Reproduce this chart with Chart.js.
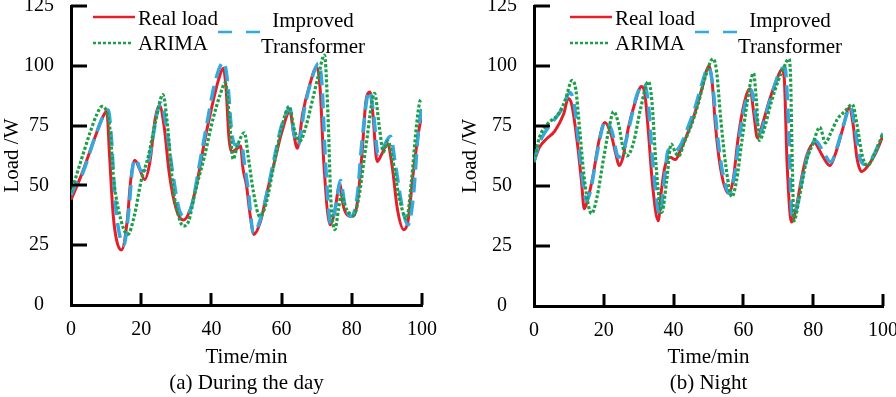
<!DOCTYPE html>
<html>
<head>
<meta charset="utf-8">
<script src="https://cdn.jsdelivr.net/npm/chart.js@4.4.0/dist/chart.umd.min.js"></script>
<style>
  html, body { margin: 0; padding: 0; background: #fff; overflow: hidden; width: 896px; height: 397px; }
  canvas { position: absolute; display: block; }
  #day { left: 0; top: -10px; }
  #night { left: 448px; top: -10px; }
</style>
</head>
<body>
<canvas id="day" width="448" height="407"></canvas>
<canvas id="night" width="460" height="407"></canvas>
<script>
// ---- data ----
const xTicks = [0, 20, 40, 60, 80, 100];
const yTicks = [0, 25, 50, 75, 100, 125];
const seriesNames = ['Real load', 'ARIMA', 'Improved Transformer'];

// (a) during the day
const dayRealTime = [0, 3, 6.8, 9.2, 10.2, 11, 12, 13, 14.4, 16, 17, 18.2, 19.5, 21, 22.5, 24, 25.2, 26.5, 28, 30, 32, 34, 36, 38, 40, 42, 43.4, 44.2, 45, 45.8, 47, 48.3, 49, 50, 51, 52.1, 54, 56, 58, 60, 62.4, 63.4, 64.5, 66, 68, 70, 71, 72, 73.8, 75, 76.6, 77.5, 78.5, 80, 81.5, 83, 84, 85.2, 86, 87.2, 88.5, 90.2, 91.5, 93, 94.8, 96, 97.5, 99, 100];
const dayRealLoad = [44, 54.5, 70, 79, 81, 62, 38, 27, 23, 35, 52, 60.5, 57, 52.5, 60, 78, 83.5, 75, 55, 40, 35.5, 40, 52, 68, 82, 94, 99, 90, 70, 64, 65, 66.5, 57, 50, 38, 29.5, 35, 48, 60, 72, 81, 72, 65.5, 80, 92, 99.5, 90, 60, 33.5, 38, 50.5, 42, 38, 37, 42, 65, 85, 89, 80, 60, 63, 67.5, 58, 40, 31.5, 35, 55, 72, 80];

const dayArimaTime = [0, 3, 5.4, 7.3, 8.8, 10.3, 11.2, 12, 13.5, 16.2, 18, 20, 22, 24, 26.2, 27.5, 29, 30.5, 32, 33.5, 35.5, 38, 40.5, 42.5, 44, 45, 46.2, 47.5, 49.4, 50.5, 52, 53.8, 55.5, 58, 60, 62.2, 63.5, 65.2, 67, 69, 70.5, 72.2, 73.2, 74, 75.2, 76.2, 77, 78.5, 80.5, 82, 84, 86.5, 87.8, 89, 90.3, 91.5, 93.5, 95.6, 97, 98.5, 99.5, 100];
const dayArimaLoad = [47, 61, 72, 79.5, 83, 80, 72, 55, 40, 29.5, 37, 52, 62, 76, 88, 75, 50, 38, 33, 35, 48, 62, 78, 88, 93, 80, 61, 67, 72, 62, 47, 37, 42, 60, 74, 83, 74, 68.5, 75, 87, 96, 104.5, 80, 45, 31.5, 40, 46, 40, 37.5, 45, 66, 88.5, 75, 64, 68.5, 62, 45, 36, 52, 76, 85.5, 86];

const dayTransTime = [0, 1.2, 3, 6.8, 9.2, 10.6, 11.5, 12.5, 13.5, 15, 16.5, 17.5, 18.5, 20, 21.5, 23, 24.5, 25.8, 27, 29, 31, 32.5, 34.5, 36.5, 39, 41, 43.5, 44.7, 45.8, 46.8, 48.5, 49.5, 50.5, 52, 54, 56, 58, 60, 62.4, 63.5, 64.8, 66.5, 68.5, 70.5, 71.5, 72.5, 74, 75.5, 76.8, 78, 79.8, 81.5, 83, 85, 86.2, 87.5, 89, 91, 92.5, 94.5, 96, 97.5, 99, 100];
const dayTransLoad = [46, 50, 54, 70, 79, 81.5, 70, 45, 32, 25, 40, 57, 61, 56, 57, 67, 80, 84.5, 76, 55, 39, 37, 42, 58, 78, 93, 101.5, 92, 72, 67, 67.5, 58, 48, 30, 36, 48, 62, 75, 82, 72, 67, 82, 94, 101, 92, 60, 34, 42, 52, 42, 37, 45, 70, 89.5, 80, 63, 66, 70.5, 58, 40, 33.5, 45, 73, 83];

// (b) night
const nightRealTime = [0, 1.5, 3.5, 6, 8.5, 9.8, 10.8, 12.5, 13.6, 14.4, 15.5, 17, 18.5, 20.3, 22, 23.5, 24.4, 25.5, 27, 29, 30.8, 31.8, 32.8, 34, 35.6, 36.5, 37.5, 39, 40.5, 42, 44, 46, 48, 50.2, 51, 52, 53.5, 55.7, 57, 58.5, 60, 61.9, 63, 64, 65.5, 67.5, 69.5, 71, 71.7, 72.5, 73.8, 75, 76.5, 78, 80.3, 82.5, 84.8, 86.5, 88.5, 90.3, 91.5, 92.5, 93.9, 96, 98, 100];
const nightRealLoad = [60, 66, 69.5, 73, 80, 86.5, 84, 67, 52, 40.5, 45, 55, 68, 76.5, 72, 63, 58.5, 62, 74, 85, 91.5, 88, 72, 50, 35.5, 48, 58, 62, 61, 65, 72, 80, 90, 100, 94, 75, 57, 47, 52, 70, 83, 90.5, 80, 70, 76, 86, 94, 98.5, 95, 60, 35, 40, 52, 62, 68, 63, 58.5, 64, 74, 82.5, 75, 62, 56, 59, 64, 71];

const nightArimaTime = [0, 1.5, 4, 7, 9, 10.9, 12, 13, 14.5, 16.5, 18, 20, 21.5, 22.8, 24.2, 25.5, 26.6, 28.5, 30.5, 32.8, 33.8, 35, 36.6, 38, 39.3, 40.5, 41.5, 43, 45, 47, 49, 51.3, 52.3, 53.5, 55, 56.7, 58, 59.5, 61, 62.9, 63.7, 64.6, 66, 68, 70, 71.5, 73, 73.5, 74, 74.5, 76, 78, 80, 81.9, 83.5, 85, 87, 89, 91.2, 92.5, 94, 95.5, 97.5, 100];
const nightArimaLoad = [60, 70, 76, 80, 86, 94, 90, 75, 52, 38.5, 45, 62, 74, 81, 76, 66, 62.5, 68, 82, 93.5, 85, 58, 39, 52, 67.5, 64, 62.5, 68, 75, 84, 95, 103, 98, 78, 58, 45.5, 52, 68, 84, 97, 86, 69, 74, 85, 94, 99, 103, 96, 60, 35.5, 45, 60, 68, 74.5, 68, 72, 78, 81, 84, 76, 63, 58.5, 63, 72];

const nightTransTime = [0, 1.3, 3, 5.5, 8, 10.3, 11.5, 12.8, 14, 15, 16.2, 18, 20.5, 22.3, 24.2, 25.5, 27.5, 29.5, 31.5, 32.7, 34, 36.1, 37.3, 38.5, 40, 42, 44, 46, 48, 50, 51.2, 52.5, 54, 56, 57.5, 59, 60.5, 62.2, 63.5, 64.8, 66.5, 68.5, 70.5, 71.9, 72.8, 74, 75.5, 77, 78.5, 80.6, 83, 85, 86.8, 88.8, 90.7, 92, 93.3, 94.8, 97, 100];
const nightTransLoad = [60, 67, 72, 77, 82, 89, 84, 68, 52, 44, 48, 63, 77, 73, 62, 64, 76, 88, 92.5, 85, 60, 38, 52, 65, 64, 67, 74, 82, 92, 99.5, 92, 72, 56, 47, 55, 72, 84, 90, 80, 72, 80, 90, 98, 99.5, 80, 37.5, 42, 54, 63, 69, 64, 60, 66, 76, 83, 74, 62, 59, 62, 72];

// ---- styling ----
const FONT = 'Liberation Serif';
Chart.defaults.font.family = FONT;
Chart.defaults.font.size = 20;
Chart.defaults.color = '#000';

const RED = '#e3202a';
const GREEN = '#1c9f48';
const BLUE = '#35a8de';

function toPoints(times, loads) {
    return times.map((t, i) => ({ x: t, y: loads[i] }));
}

function lineSet(label, points, color, dash, width, order) {
    return {
        label,
        data: points,
        borderColor: color,
        backgroundColor: color,
        borderWidth: width,
        borderDash: dash,
        pointRadius: 0,
        fill: false,
        tension: 0.4,
        cubicInterpolationMode: 'monotone',
        order
    };
}

// ticks are drawn inward, like the figure
const inwardTicks = {
    id: 'inwardTicks',
    afterDraw(chart) {
        const { ctx, chartArea, scales } = chart;
        ctx.save();
        ctx.strokeStyle = '#000';
        ctx.lineWidth = 3;
        yTicks.slice(1).forEach(v => {
            const py = Math.round(scales.y.getPixelForValue(v));
            ctx.beginPath();
            ctx.moveTo(chartArea.left, py);
            ctx.lineTo(chartArea.left + 16, py);
            ctx.stroke();
        });
        xTicks.slice(1).forEach(v => {
            const px = Math.round(scales.x.getPixelForValue(v));
            ctx.beginPath();
            ctx.moveTo(px, chartArea.bottom);
            ctx.lineTo(px, chartArea.bottom - 12);
            ctx.stroke();
        });
        ctx.restore();
    }
};

// legend: two entries stacked on the left, the two-line one to the right
const figureLegend = {
    id: 'figureLegend',
    afterDraw(chart, args, opts) {
        const { ctx, chartArea } = chart;
        const L = chartArea.left + opts.shift;
        const T = chartArea.top;
        const ds = chart.data.datasets;
        const sample = (d, x0, x1, y, dash) => {
            ctx.save();
            ctx.strokeStyle = d.borderColor;
            ctx.lineWidth = 2.5;
            ctx.setLineDash(dash);
            ctx.beginPath();
            ctx.moveTo(x0, y);
            ctx.lineTo(x1, y);
            ctx.stroke();
            ctx.restore();
        };
        sample(ds[0], L + 22, L + 64, T + 11, []);
        sample(ds[1], L + 22, L + 60, T + 37, [3, 2]);
        sample(ds[2], L + 147, L + 189, T + 26, [14, 14]);

        ctx.save();
        ctx.fillStyle = '#000';
        ctx.font = `21px "${FONT}"`;
        ctx.textBaseline = 'alphabetic';
        ctx.textAlign = 'left';
        ctx.fillText(seriesNames[0], L + 67, T + 19);
        ctx.fillText(seriesNames[1], L + 67, T + 44);
        ctx.textAlign = 'center';
        const [w1, w2] = seriesNames[2].split(' ');
        ctx.fillText(w1, L + 242, T + 21);
        ctx.fillText(w2, L + 242, T + 47);
        ctx.restore();
    }
};

function makeChart(id, real, arima, trans, caption, layout) {
    return new Chart(document.getElementById(id), {
        type: 'line',
        data: {
            datasets: [
                lineSet(seriesNames[0], real, RED, [], 3, 3),
                lineSet(seriesNames[1], arima, GREEN, [3, 2], 3.2, 1),
                lineSet(seriesNames[2], trans, BLUE, [15, 8], 3.5, 2)
            ]
        },
        options: {
            responsive: false,
            animation: false,
            layout: { padding: layout.padding },
            plugins: {
                legend: { display: false },
                tooltip: { enabled: false },
                figureLegend: { shift: layout.legendShift }
            },
            scales: {
                x: {
                    type: 'linear',
                    min: 0,
                    max: 100,
                    afterBuildTicks: s => { s.ticks = xTicks.map(v => ({ value: v })); },
                    afterFit: s => { s.height = layout.xHeight; },
                    ticks: { padding: 0, maxRotation: 0, autoSkip: false, color: '#000' },
                    // grid hidden; tickLength only spaces the labels
                    grid: { display: false, drawTicks: true, tickLength: 13 },
                    border: { display: true, width: 3, color: '#000' },
                    title: {
                        display: true,
                        text: ['Time/min', caption],
                        font: { size: 21, lineHeight: 1.25 },
                        color: '#000',
                        padding: 0
                    }
                },
                y: {
                    type: 'linear',
                    min: 0,
                    max: 125,
                    afterBuildTicks: s => { s.ticks = yTicks.map(v => ({ value: v })); },
                    afterFit: s => { s.width = layout.yWidth; },
                    ticks: { crossAlign: 'center', padding: 0, color: '#000' },
                    grid: { display: false, drawTicks: true, tickLength: 17 },
                    border: { display: true, width: 3, color: '#000' },
                    title: { display: true, text: 'Load /W', font: { size: 21 }, color: '#000', padding: 0 }
                }
            }
        },
        plugins: [inwardTicks, figureLegend]
    });
}

makeChart('day',
    toPoints(dayRealTime, dayRealLoad),
    toPoints(dayArimaTime, dayArimaLoad),
    toPoints(dayTransTime, dayTransLoad),
    '(a) During the day',
    { padding: { left: 0, top: 16, right: 26, bottom: 0 }, yWidth: 71, xHeight: 92, legendShift: 0 });

makeChart('night',
    toPoints(nightRealTime, nightRealLoad),
    toPoints(nightArimaTime, nightArimaLoad),
    toPoints(nightTransTime, nightTransLoad),
    '(b) Night',
    { padding: { left: 10, top: 16, right: 25, bottom: 0 }, yWidth: 76, xHeight: 91, legendShift: 14 });
</script>
</body>
</html>
